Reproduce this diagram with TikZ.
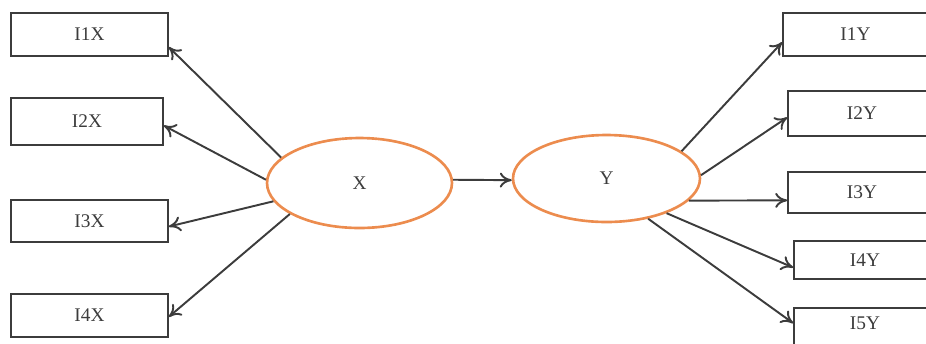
\documentclass[tikz,border=0pt]{standalone}
\usepackage{fontspec}
\setmainfont{Liberation Serif}
\usetikzlibrary{arrows.meta, shapes.geometric}
\definecolor{latorange}{RGB}{236,140,78}
\definecolor{linegray}{RGB}{60,60,60}
\tikzset{
  ind/.style={draw=linegray, line width=0.9pt, inner sep=0pt, minimum width=3.14cm,
    minimum height=0.86cm, font=\fontsize{11}{13}\selectfont, text=linegray},
  lat/.style={draw=latorange, ellipse, line width=1.5pt, inner sep=0pt, minimum width=3.7cm,
    minimum height=1.8cm, font=\fontsize{11}{13}\selectfont, text=linegray},
  arr/.style={-{To[length=2.4mm, width=3mm]}, draw=linegray, line width=1.1pt},
}

\begin{document}
\begin{tikzpicture}[x=0.02cm, y=-0.02cm]
    \clip (0,0) rectangle (926,343);
    % latent variables
    \node[lat] (X) at (359.5,183) {X};
    \node[lat, minimum width=3.74cm, minimum height=1.74cm] (Y) at (606.5,178.5) {Y};
    % indicators of X
    \node[ind] (I1X) at (89.5,34.5) {I1X};
    \node[ind, minimum width=3.04cm, minimum height=0.94cm] (I2X) at (87,121.5) {I2X};
    \node[ind, minimum height=0.84cm] (I3X) at (89.5,221) {I3X};
    \node[ind] (I4X) at (89.5,315.5) {I4X};
    % indicators of Y
    \node[ind, minimum width=2.9cm] (I1Y) at (855.5,34.5) {I1Y};
    \node[ind, minimum width=2.96cm, minimum height=0.9cm] (I2Y) at (862,113.5) {I2Y};
    \node[ind, minimum width=2.96cm, minimum height=0.82cm] (I3Y) at (862,192.5) {I3Y};
    \node[ind, minimum width=2.84cm, minimum height=0.76cm] (I4Y) at (865,260) {I4Y};
    \node[ind, minimum width=2.84cm, text depth=0.24cm] (I5Y) at (865,329.5) {I5Y};
    % loadings
    \draw[arr] (X.162) -- (I1X.-9);
    \draw[arr] (X.178) -- (I2X.-3);
    \draw[arr] (X.192) -- (I3X.-4);
    \draw[arr] (X.204) -- (I4X.-1);
    \draw[arr] (X.2) -- (Y.181);
    \draw[arr] (Y.20) -- (I1Y.186);
    \draw[arr] (Y.2) -- (I2Y.183);
    \draw[arr] (Y.-15) -- (I3Y.186);
    \draw[arr] (Y.-30) -- (I4Y.186);
    \draw[arr] (Y.-44) -- (I5Y.175);
\end{tikzpicture}
\end{document}
